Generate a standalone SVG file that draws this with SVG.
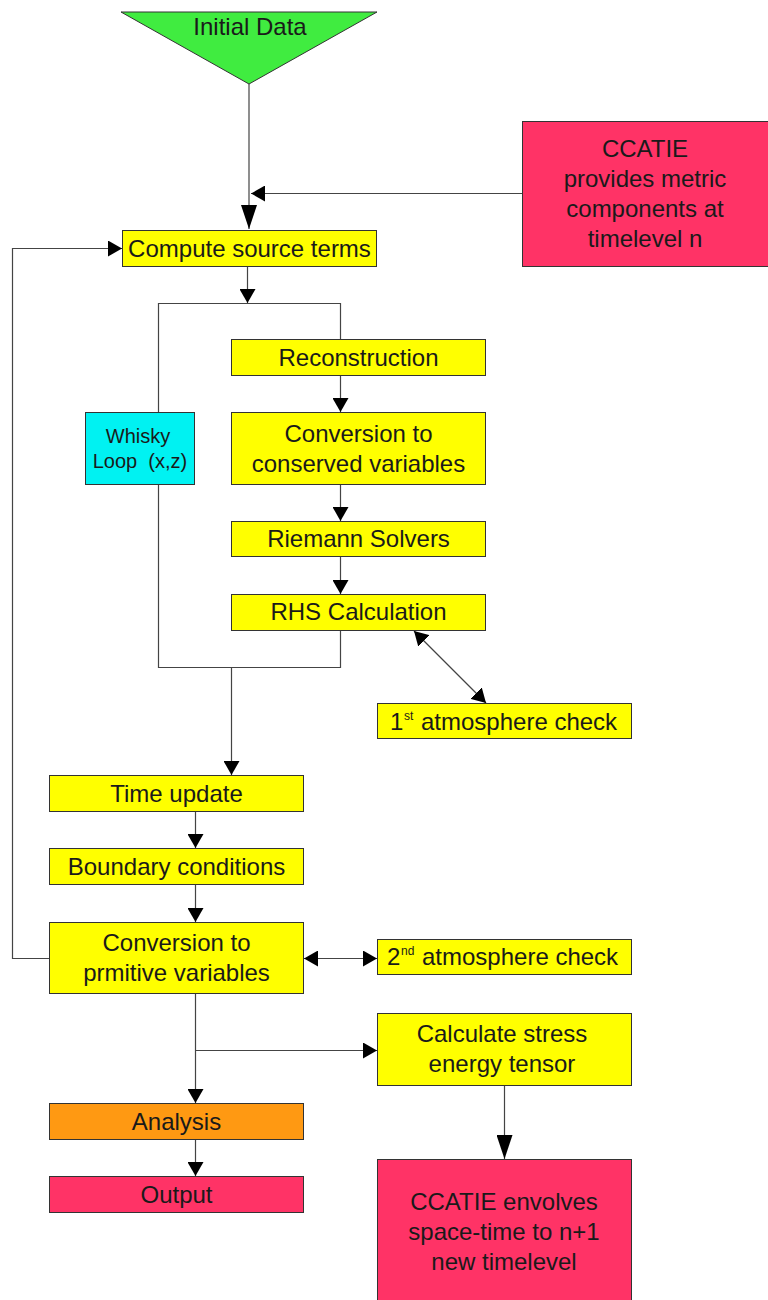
<svg xmlns="http://www.w3.org/2000/svg" width="768" height="1300" viewBox="0 0 768 1300">
<defs>
<style>
.box{stroke:#333;stroke-width:1}
.y{fill:#ffff00}
.p{fill:#ff3366}
.o{fill:#ff9912}
.c{fill:#00f2f2}
.t{font-family:"Liberation Sans",Arial,Helvetica,sans-serif;font-size:24px;fill:#1a1a1a;text-anchor:middle}
.st{font-family:"Liberation Sans",Arial,Helvetica,sans-serif;font-size:24px;fill:#1a1a1a}
.sup{font-size:12px}
.s{font-size:20px}
.ln{fill:none;stroke:#444;stroke-width:1.2}
</style>
<marker id="a" markerUnits="userSpaceOnUse" markerWidth="14" markerHeight="16" refX="14" refY="8" orient="auto-start-reverse" viewBox="0 0 14 16">
<path d="M0,0 L14,8 L0,16 z" fill="#000"/>
</marker>
<marker id="b" markerUnits="userSpaceOnUse" markerWidth="24" markerHeight="16" refX="24" refY="8" orient="auto-start-reverse" viewBox="0 0 24 16">
<path d="M0,0 L24,8 L0,16 z" fill="#000"/>
</marker>
</defs>
<rect width="768" height="1300" fill="#fff"/>

<g id="connectors">
<line class="ln" x1="249" y1="84" x2="249" y2="229" marker-end="url(#b)"/>
<line class="ln" x1="522" y1="193.5" x2="251" y2="193.5" marker-end="url(#a)"/>
<line class="ln" x1="247.5" y1="267" x2="247.5" y2="303" marker-end="url(#a)"/>
<polyline class="ln" points="158.5,412 158.5,303.5 340.5,303.5 340.5,339"/>
<polyline class="ln" points="158.5,485 158.5,667.5 340.5,667.5 340.5,631"/>
<line class="ln" x1="231.5" y1="667.5" x2="231.5" y2="775" marker-end="url(#a)"/>
<line class="ln" x1="340.5" y1="376" x2="340.5" y2="412" marker-end="url(#a)"/>
<line class="ln" x1="340.5" y1="485" x2="340.5" y2="521" marker-end="url(#a)"/>
<line class="ln" x1="340.5" y1="557" x2="340.5" y2="594" marker-end="url(#a)"/>
<line class="ln" x1="414" y1="631" x2="486" y2="703" marker-start="url(#a)" marker-end="url(#a)"/>
<line class="ln" x1="195.5" y1="812" x2="195.5" y2="848" marker-end="url(#a)"/>
<line class="ln" x1="195.5" y1="885" x2="195.5" y2="922" marker-end="url(#a)"/>
<line class="ln" x1="304" y1="958.5" x2="377" y2="958.5" marker-start="url(#a)" marker-end="url(#a)"/>
<polyline class="ln" points="49,958.5 12.5,958.5 12.5,248.5 122,248.5" marker-end="url(#a)"/>
<line class="ln" x1="195.5" y1="994" x2="195.5" y2="1103" marker-end="url(#a)"/>
<line class="ln" x1="195.5" y1="1050.5" x2="377" y2="1050.5" marker-end="url(#a)"/>
<line class="ln" x1="195.5" y1="1140" x2="195.5" y2="1176" marker-end="url(#a)"/>
<line class="ln" x1="504.5" y1="1086" x2="504.5" y2="1159" marker-end="url(#b)"/>
</g>

<g id="initial">
<polygon class="box" points="121,12 377,12 249,84" fill="#40ec40"/>
<text class="t" x="250" y="35">Initial Data</text>
</g>

<g id="ccatie-metric">
<rect class="box p" x="522.5" y="121.5" width="250" height="145"/>
<text class="t" x="645" y="157">CCATIE</text>
<text class="t" x="645" y="187">provides metric</text>
<text class="t" x="645" y="217">components at</text>
<text class="t" x="645" y="247">timelevel n</text>
</g>

<g id="compute">
<rect class="box y" x="122.5" y="230.5" width="254" height="36"/>
<text class="t" x="249.5" y="257">Compute source terms</text>
</g>

<g id="whisky">
<rect class="box c" x="85.5" y="412.5" width="109" height="72"/>
<text class="t s" x="138" y="443">Whisky</text>
<text class="t s" x="140" y="468" xml:space="preserve">Loop  (x,z)</text>
</g>

<g id="reconstruction">
<rect class="box y" x="231.5" y="339.5" width="254" height="36"/>
<text class="t" x="358.5" y="366">Reconstruction</text>
</g>

<g id="conv-conserved">
<rect class="box y" x="231.5" y="412.5" width="254" height="72"/>
<text class="t" x="358.5" y="442">Conversion to</text>
<text class="t" x="358.5" y="472">conserved variables</text>
</g>

<g id="riemann">
<rect class="box y" x="231.5" y="521.5" width="254" height="35"/>
<text class="t" x="358.5" y="547">Riemann Solvers</text>
</g>

<g id="rhs">
<rect class="box y" x="231.5" y="594.5" width="254" height="36"/>
<text class="t" x="358.5" y="620">RHS Calculation</text>
</g>

<g id="atm1">
<rect class="box y" x="377.5" y="703.5" width="254" height="35"/>
<text class="st" x="390" y="730">1</text>
<text class="st sup" x="404" y="720">st</text>
<text class="st" x="421" y="730">atmosphere check</text>
</g>

<g id="time-update">
<rect class="box y" x="49.5" y="775.5" width="254" height="36"/>
<text class="t" x="176.5" y="802">Time update</text>
</g>

<g id="boundary">
<rect class="box y" x="49.5" y="848.5" width="254" height="36"/>
<text class="t" x="176.5" y="875">Boundary conditions</text>
</g>

<g id="conv-primitive">
<rect class="box y" x="49.5" y="922.5" width="254" height="71"/>
<text class="t" x="176.5" y="951">Conversion to</text>
<text class="t" x="176.5" y="981">prmitive variables</text>
</g>

<g id="atm2">
<rect class="box y" x="377.5" y="939.5" width="254" height="35"/>
<text class="st" x="387" y="965">2</text>
<text class="st sup" x="401" y="955">nd</text>
<text class="st" x="422" y="965">atmosphere check</text>
</g>

<g id="stress">
<rect class="box y" x="377.5" y="1013.5" width="254" height="72"/>
<text class="t" x="502" y="1042">Calculate stress</text>
<text class="t" x="502" y="1072">energy tensor</text>
</g>

<g id="analysis">
<rect class="box o" x="49.5" y="1103.5" width="254" height="36"/>
<text class="t" x="176.5" y="1130">Analysis</text>
</g>

<g id="output">
<rect class="box p" x="49.5" y="1176.5" width="254" height="36"/>
<text class="t" x="176.5" y="1203">Output</text>
</g>

<g id="ccatie-evolve">
<rect class="box p" x="377.5" y="1159.5" width="254" height="150"/>
<text class="t" x="504" y="1210">CCATIE envolves</text>
<text class="t" x="504" y="1240">space-time to n+1</text>
<text class="t" x="504" y="1270">new timelevel</text>
</g>
</svg>
